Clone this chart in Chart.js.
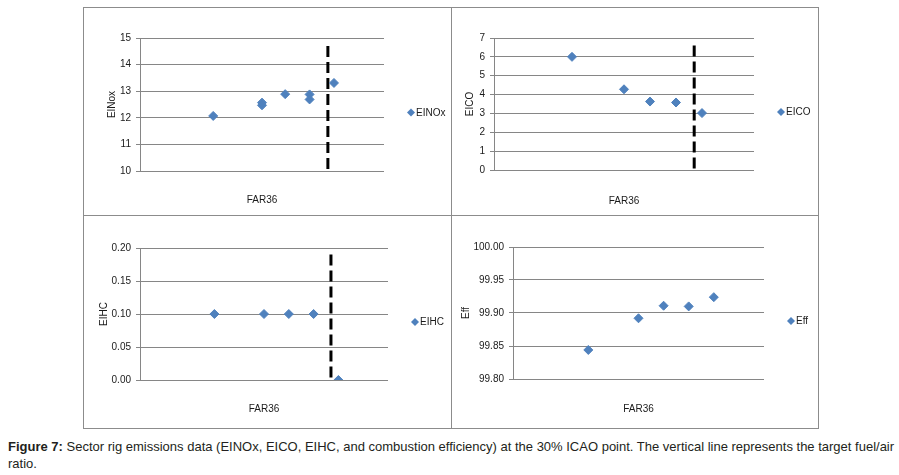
<!DOCTYPE html>
<html>
<head>
<meta charset="utf-8">
<script src="https://cdn.jsdelivr.net/npm/chart.js@4.4.1/dist/chart.umd.min.js"></script>
<style>
  body { margin: 0; background: #fff; }
  #page { position: relative; width: 899px; height: 475px; overflow: hidden; background: #fff;
          font-family: "Liberation Sans", Arial, sans-serif; }
  .rule { position: absolute; background: #8c8c8c; }
  .panel { position: absolute; }
  #caption { position: absolute; left: 8px; top: 438px; width: 891px; font-size: 13px; line-height: 17px;
             color: #231f20; white-space: nowrap; }
</style>
</head>
<body>
<div id="page">
  <div class="rule" style="left:83px;top:7px;width:736px;height:1px"></div>
  <div class="rule" style="left:83px;top:428px;width:736px;height:1px"></div>
  <div class="rule" style="left:83px;top:7px;width:1px;height:422px"></div>
  <div class="rule" style="left:818px;top:7px;width:1px;height:422px"></div>
  <div class="rule" style="left:451px;top:7px;width:1px;height:422px"></div>
  <div class="rule" style="left:83px;top:215px;width:736px;height:1px"></div>

  <div class="panel" id="p1"><canvas id="cNOx"></canvas></div>
  <div class="panel" id="p2"><canvas id="cCO"></canvas></div>
  <div class="panel" id="p3"><canvas id="cHC"></canvas></div>
  <div class="panel" id="p4"><canvas id="cEff"></canvas></div>

  <div id="caption"><b>Figure 7:</b> Sector rig emissions data (EINOx, EICO, EIHC, and combustion efficiency) at the 30% ICAO point. The vertical line represents the target fuel/air<br>ratio.</div>
</div>

<script>
/* ---------- data (FAR36 axis has no tick labels, so x is in axis fractions) ---------- */
const farNOx = [0.30, 0.50, 0.50, 0.595, 0.695, 0.695, 0.795];
const eiNOx = [12.07, 12.47, 12.57, 12.89, 12.88, 12.69, 13.31];

const farPts = [0.30, 0.50, 0.60, 0.70, 0.80];
const eiCO = [6.0, 4.28, 3.63, 3.58, 3.02];
const eiHC = [0.10, 0.10, 0.10, 0.10, 0.00];
const effPct = [99.844, 99.892, 99.911, 99.910, 99.924];

const targetFar = 0.77;
const targetTop = [14.7, 6.6, 0.19];

const yNOx = { min: 10, max: 15, step: 1 };
const yCO = { min: 0, max: 7, step: 1 };
const yHC = { min: 0, max: 0.2, step: 0.05 };
const yEff = { min: 99.8, max: 100, step: 0.05 };

/* ---------- look ---------- */
const blue = "#4F81BD";
const grid = "#868686";
const ink = "#1a1a1a";
const font10 = { family: "'Liberation Sans', Arial, sans-serif", size: 10 };

/* legend drawn beside the plot, like the spreadsheet one */
const sideLegend = {
  id: "sideLegend",
  afterDraw(chart) {
    const ds = chart.data.datasets[0];
    const { ctx, chartArea } = chart;
    const x = chartArea.right + 27;
    const y = (chartArea.top + chartArea.bottom) / 2 + 8;
    ctx.save();
    ctx.fillStyle = ds.backgroundColor;
    ctx.beginPath();
    ctx.moveTo(x, y - 4);
    ctx.lineTo(x + 4, y);
    ctx.lineTo(x, y + 4);
    ctx.lineTo(x - 4, y);
    ctx.closePath();
    ctx.fill();
    ctx.fillStyle = ink;
    ctx.font = "10px 'Liberation Sans', Arial, sans-serif";
    ctx.textBaseline = "middle";
    ctx.fillText(ds.label, x + 5, y + 0.5);
    ctx.restore();
  },
};

function makePanel(id, box, plot, yTitleX, xTitleY, label, xs, ys, yr, decimals, lineTop) {
  const holder = document.getElementById(id);
  holder.style.left = box.x + "px";
  holder.style.top = box.y + "px";
  holder.style.width = box.w + "px";
  holder.style.height = box.h + "px";

  const datasets = [
    {
      label: label,
      data: xs.map((x, i) => ({ x: x, y: ys[i] })),
      backgroundColor: blue,
      borderColor: blue,
      borderWidth: 1,
      pointStyle: "rectRot",
      pointRadius: 4.5,
    },
  ];
  if (lineTop !== null) {
    datasets.push({
      label: "target",
      data: [{ x: targetFar, y: lineTop }, { x: targetFar, y: yr.min }],
      showLine: true,
      borderColor: "#000",
      borderWidth: 3,
      borderDash: [11, 5],
      pointRadius: 0,
    });
  }

  new Chart(holder.querySelector("canvas"), {
    type: "scatter",
    data: { datasets: datasets },
    plugins: [sideLegend],
    options: {
      responsive: true,
      maintainAspectRatio: false,
      animation: false,
      layout: {
        padding: { left: 0, bottom: 0, top: plot.t - box.y, right: box.x + box.w - plot.r },
      },
      plugins: { legend: { display: false }, tooltip: { enabled: false } },
      scales: {
        x: {
          type: "linear",
          min: 0,
          max: 1,
          grid: { display: false },
          border: { display: false },
          ticks: { display: false },
          title: {
            display: true,
            text: "FAR36",
            color: ink,
            font: font10,
            padding: { top: 0, bottom: box.y + box.h - xTitleY - 6 },
          },
          afterFit: (s) => { s.height = box.y + box.h - plot.b; },
        },
        y: {
          min: yr.min,
          max: yr.max,
          ticks: {
            stepSize: yr.step,
            color: ink,
            font: font10,
            padding: 5,
            callback: (v) => Number(v).toFixed(decimals),
          },
          grid: { color: grid, lineWidth: 1, tickLength: 4 },
          border: { color: grid, width: 1 },
          title: {
            display: true,
            text: label === "Eff" ? "Eff" : label.replace("EINOx", "EINox"),
            color: ink,
            font: font10,
            padding: { top: yTitleX - box.x - 6, bottom: 0 },
          },
          afterFit: (s) => { s.width = plot.l - box.x; },
        },
      },
    },
  });
}

makePanel("p1", { x: 84, y: 8, w: 367, h: 207 }, { l: 140, t: 38, r: 384, b: 171 }, 112, 200,
  "EINOx", farNOx, eiNOx, yNOx, 0, targetTop[0]);
makePanel("p2", { x: 452, y: 8, w: 366, h: 207 }, { l: 494, t: 38, r: 754, b: 170 }, 470, 201,
  "EICO", farPts, eiCO, yCO, 0, targetTop[1]);
makePanel("p3", { x: 84, y: 216, w: 367, h: 212 }, { l: 140, t: 248, r: 388, b: 380 }, 104, 409,
  "EIHC", farPts, eiHC, yHC, 2, targetTop[2]);
makePanel("p4", { x: 452, y: 216, w: 366, h: 212 }, { l: 513, t: 247, r: 764, b: 379 }, 466, 409,
  "Eff", farPts, effPct, yEff, 2, null);
</script>
</body>
</html>
